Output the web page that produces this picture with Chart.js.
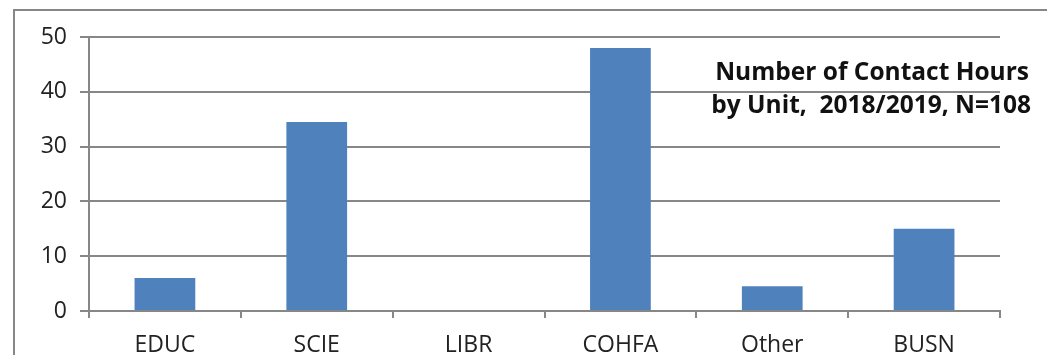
<!DOCTYPE html>
<html>
<head>
<meta charset="utf-8">
<script src="https://cdn.jsdelivr.net/npm/chart.js@4"></script>
<style>
  html, body { margin: 0; padding: 0; background: #fff; }
  #wrap { width: 1047px; height: 355px; position: relative; }
</style>
</head>
<body>
<div id="wrap"><canvas id="c" width="1047" height="355"></canvas></div>
<script>
// Contact hours per academic unit, 2018/2019
const units = ['EDUC', 'SCIE', 'LIBR', 'COHFA', 'Other', 'BUSN'];
const contactHours = [6, 34.5, 0, 48, 4.5, 15];
const yTicks = [0, 10, 20, 30, 40, 50];
const titleLines = ['Number of Contact Hours', 'by Unit,  2018/2019, N=108'];

const FONT = '"Open Sans", Lato, sans-serif';
const GRID = '#878787';

// Frame along the top and left edges, plus the title block inside the plot
const decor = {
  id: 'decor',
  afterDraw(chart) {
    const ctx = chart.ctx;
    ctx.save();
    ctx.strokeStyle = GRID;
    ctx.lineWidth = 2;
    ctx.beginPath();
    ctx.moveTo(14, 355);
    ctx.lineTo(14, 10);
    ctx.lineTo(1047, 10);
    ctx.stroke();

    ctx.fillStyle = '#111';
    ctx.font = 'bold 24.5px ' + FONT;
    ctx.textAlign = 'right';
    ctx.textBaseline = 'middle';
    ctx.fillText(titleLines[0], 1029, 73);
    ctx.fillText(titleLines[1], 1031, 106);
    ctx.restore();
  }
};

new Chart(document.getElementById('c'), {
  type: 'bar',
  data: {
    labels: units,
    datasets: [{
      data: contactHours,
      backgroundColor: '#4F81BD',
      borderWidth: 0,
      categoryPercentage: 1,
      barPercentage: 0.4
    }]
  },
  options: {
    responsive: false,
    animation: false,
    layout: { padding: { left: 0, top: 37, right: 47, bottom: 0 } },
    plugins: { legend: { display: false }, tooltip: { enabled: false }, title: { display: false } },
    scales: {
      x: {
        offset: true,
        grid: {
          offset: true,
          drawOnChartArea: false,
          drawTicks: true,
          tickLength: 7,
          color: GRID,
          lineWidth: 2
        },
        border: { color: GRID, width: 2 },
        ticks: { color: '#222', font: { family: FONT, size: 23 }, padding: 14, maxRotation: 0 },
        afterFit(s) { s.height = 44; }
      },
      y: {
        min: 0,
        max: 50,
        afterBuildTicks(s) { s.ticks = yTicks.map(v => ({ value: v })); },
        grid: { color: GRID, lineWidth: 2, tickLength: 9 },
        border: { color: GRID, width: 2 },
        ticks: { color: '#222', font: { family: FONT, size: 23 }, padding: 13 },
        afterFit(s) { s.width = 89; }
      }
    }
  },
  plugins: [decor]
});
</script>
</body>
</html>
